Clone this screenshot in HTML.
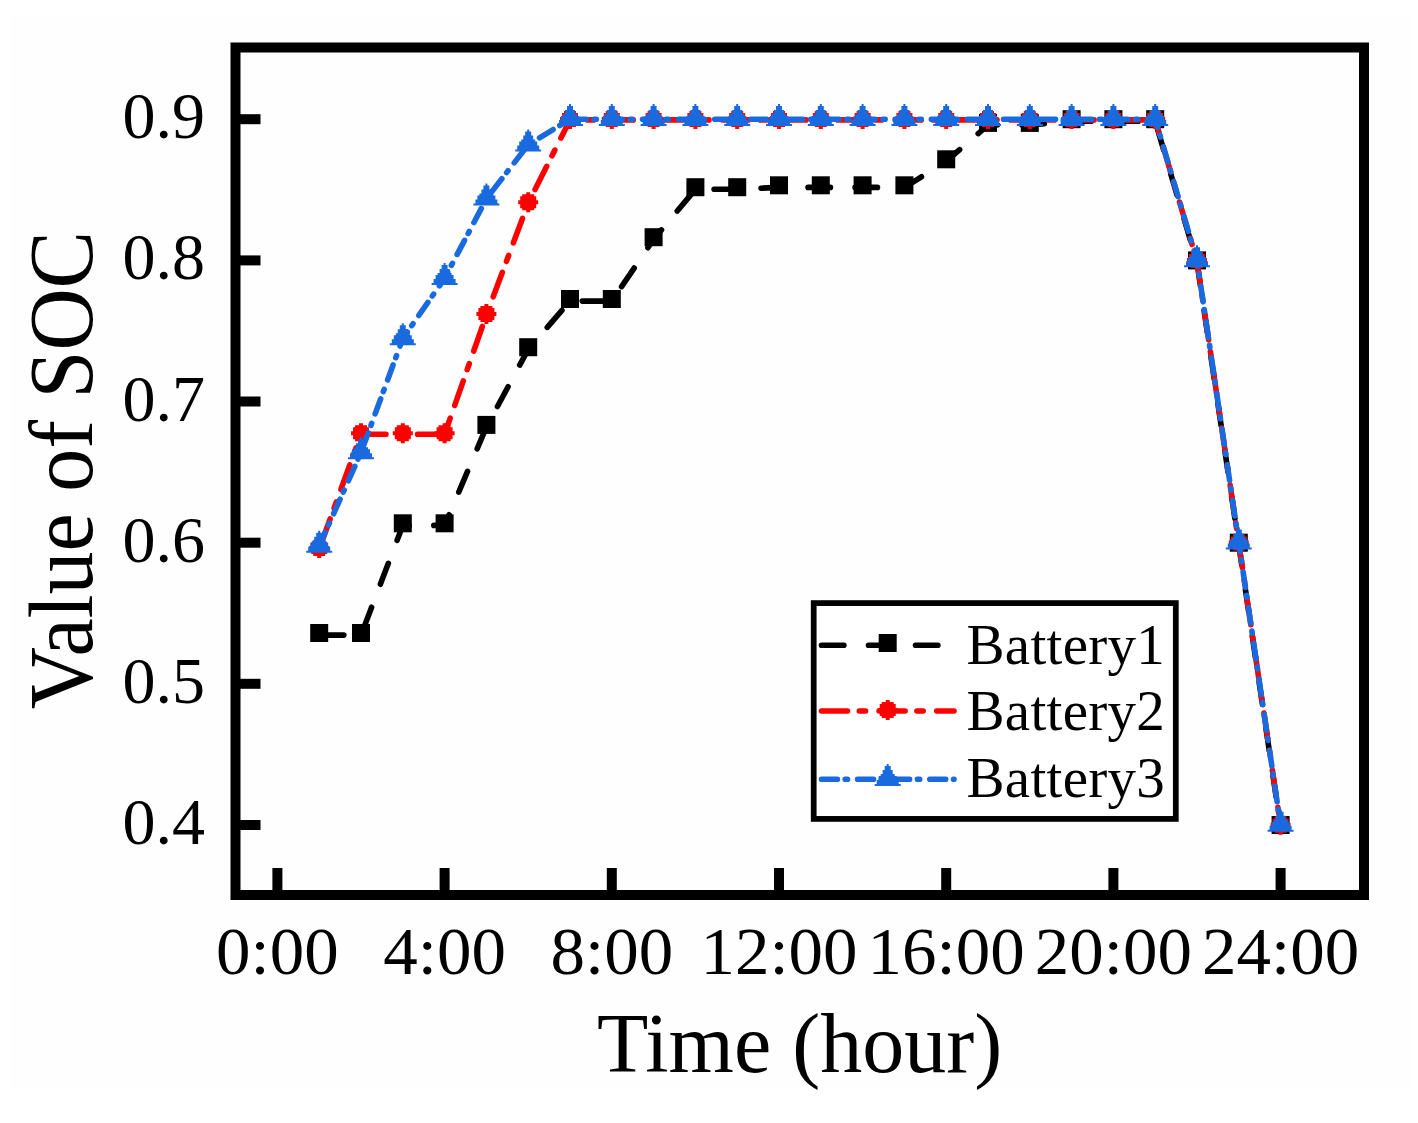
<!DOCTYPE html>
<html><head><meta charset="utf-8"><style>
html,body{margin:0;padding:0;background:#fff;}
body{width:1418px;height:1123px;overflow:hidden;font-family:"Liberation Serif",serif;}
svg{display:block;}
</style></head><body>
<svg width="1418" height="1123" viewBox="0 0 1418 1123">
<rect width="1418" height="1123" fill="#fff"/>
<rect x="10" y="16" width="1401" height="1074" fill="#fefefe"/>
<polyline points="319.2,635.1 361.0,635.1 402.8,525.4 444.6,525.4 486.4,427.0 528.2,349.3 570.0,301.1 611.8,301.1 653.6,239.3 695.4,189.3 737.2,189.3 779.0,187.4 820.8,187.4 862.6,187.4 904.4,187.4 946.2,161.4 988.0,125.0 1029.8,125.0 1071.6,121.3 1113.4,121.3 1155.2,121.3 1197.0,262.5 1238.8,544.8 1280.6,827.1" fill="none" stroke="#000" stroke-width="5.6" stroke-dasharray="22.4 24.6" stroke-dashoffset="44.79" stroke-linecap="round" stroke-linejoin="round"/>
<rect x="310.2" y="624.0" width="18" height="18" fill="#000"/>
<rect x="352.0" y="624.0" width="18" height="18" fill="#000"/>
<rect x="393.8" y="514.3" width="18" height="18" fill="#000"/>
<rect x="435.6" y="514.3" width="18" height="18" fill="#000"/>
<rect x="477.4" y="415.9" width="18" height="18" fill="#000"/>
<rect x="519.2" y="338.2" width="18" height="18" fill="#000"/>
<rect x="561.0" y="290.0" width="18" height="18" fill="#000"/>
<rect x="602.8" y="290.0" width="18" height="18" fill="#000"/>
<rect x="644.6" y="228.2" width="18" height="18" fill="#000"/>
<rect x="686.4" y="178.2" width="18" height="18" fill="#000"/>
<rect x="728.2" y="178.2" width="18" height="18" fill="#000"/>
<rect x="770.0" y="176.3" width="18" height="18" fill="#000"/>
<rect x="811.8" y="176.3" width="18" height="18" fill="#000"/>
<rect x="853.6" y="176.3" width="18" height="18" fill="#000"/>
<rect x="895.4" y="176.3" width="18" height="18" fill="#000"/>
<rect x="937.2" y="150.3" width="18" height="18" fill="#000"/>
<rect x="979.0" y="113.9" width="18" height="18" fill="#000"/>
<rect x="1020.8" y="113.9" width="18" height="18" fill="#000"/>
<rect x="1062.6" y="110.2" width="18" height="18" fill="#000"/>
<rect x="1104.4" y="110.2" width="18" height="18" fill="#000"/>
<rect x="1146.2" y="110.2" width="18" height="18" fill="#000"/>
<rect x="1188.0" y="251.4" width="18" height="18" fill="#000"/>
<rect x="1229.8" y="533.7" width="18" height="18" fill="#000"/>
<rect x="1271.6" y="816.0" width="18" height="18" fill="#000"/>
<polyline points="319.2,549.0 361.0,434.2 402.8,434.2 444.6,434.2 486.4,314.9 528.2,203.2 570.0,119.9 611.8,119.9 653.6,119.9 695.4,119.9 737.2,119.9 779.0,119.9 820.8,119.9 862.6,119.9 904.4,119.9 946.2,119.9 988.0,119.9 1029.8,119.9 1071.6,119.9 1113.4,119.9 1155.2,119.9 1197.0,261.1 1238.8,543.4 1280.6,825.7" fill="none" stroke="#FF0000" stroke-width="5.6" stroke-dasharray="26 11.8 6.3 13.5" stroke-dashoffset="51.67" stroke-linecap="round" stroke-linejoin="round"/>
<polygon points="321.2,538.0 321.2,540.0 325.2,540.0 325.2,542.0 327.2,542.0 327.2,546.0 329.2,546.0 329.2,550.0 327.2,550.0 327.2,554.0 325.2,554.0 325.2,556.0 321.2,556.0 321.2,558.0 317.2,558.0 317.2,556.0 313.2,556.0 313.2,554.0 311.2,554.0 311.2,550.0 309.2,550.0 309.2,546.0 311.2,546.0 311.2,542.0 313.2,542.0 313.2,540.0 317.2,540.0 317.2,538.0" fill="#FF0000"/>
<polygon points="363.0,423.2 363.0,425.2 367.0,425.2 367.0,427.2 369.0,427.2 369.0,431.2 371.0,431.2 371.0,435.2 369.0,435.2 369.0,439.2 367.0,439.2 367.0,441.2 363.0,441.2 363.0,443.2 359.0,443.2 359.0,441.2 355.0,441.2 355.0,439.2 353.0,439.2 353.0,435.2 351.0,435.2 351.0,431.2 353.0,431.2 353.0,427.2 355.0,427.2 355.0,425.2 359.0,425.2 359.0,423.2" fill="#FF0000"/>
<polygon points="404.8,423.2 404.8,425.2 408.8,425.2 408.8,427.2 410.8,427.2 410.8,431.2 412.8,431.2 412.8,435.2 410.8,435.2 410.8,439.2 408.8,439.2 408.8,441.2 404.8,441.2 404.8,443.2 400.8,443.2 400.8,441.2 396.8,441.2 396.8,439.2 394.8,439.2 394.8,435.2 392.8,435.2 392.8,431.2 394.8,431.2 394.8,427.2 396.8,427.2 396.8,425.2 400.8,425.2 400.8,423.2" fill="#FF0000"/>
<polygon points="446.6,423.2 446.6,425.2 450.6,425.2 450.6,427.2 452.6,427.2 452.6,431.2 454.6,431.2 454.6,435.2 452.6,435.2 452.6,439.2 450.6,439.2 450.6,441.2 446.6,441.2 446.6,443.2 442.6,443.2 442.6,441.2 438.6,441.2 438.6,439.2 436.6,439.2 436.6,435.2 434.6,435.2 434.6,431.2 436.6,431.2 436.6,427.2 438.6,427.2 438.6,425.2 442.6,425.2 442.6,423.2" fill="#FF0000"/>
<polygon points="488.4,303.9 488.4,305.9 492.4,305.9 492.4,307.9 494.4,307.9 494.4,311.9 496.4,311.9 496.4,315.9 494.4,315.9 494.4,319.9 492.4,319.9 492.4,321.9 488.4,321.9 488.4,323.9 484.4,323.9 484.4,321.9 480.4,321.9 480.4,319.9 478.4,319.9 478.4,315.9 476.4,315.9 476.4,311.9 478.4,311.9 478.4,307.9 480.4,307.9 480.4,305.9 484.4,305.9 484.4,303.9" fill="#FF0000"/>
<polygon points="530.2,192.2 530.2,194.2 534.2,194.2 534.2,196.2 536.2,196.2 536.2,200.2 538.2,200.2 538.2,204.2 536.2,204.2 536.2,208.2 534.2,208.2 534.2,210.2 530.2,210.2 530.2,212.2 526.2,212.2 526.2,210.2 522.2,210.2 522.2,208.2 520.2,208.2 520.2,204.2 518.2,204.2 518.2,200.2 520.2,200.2 520.2,196.2 522.2,196.2 522.2,194.2 526.2,194.2 526.2,192.2" fill="#FF0000"/>
<polygon points="572.0,108.9 572.0,110.9 576.0,110.9 576.0,112.9 578.0,112.9 578.0,116.9 580.0,116.9 580.0,120.9 578.0,120.9 578.0,124.9 576.0,124.9 576.0,126.9 572.0,126.9 572.0,128.9 568.0,128.9 568.0,126.9 564.0,126.9 564.0,124.9 562.0,124.9 562.0,120.9 560.0,120.9 560.0,116.9 562.0,116.9 562.0,112.9 564.0,112.9 564.0,110.9 568.0,110.9 568.0,108.9" fill="#FF0000"/>
<polygon points="613.8,108.9 613.8,110.9 617.8,110.9 617.8,112.9 619.8,112.9 619.8,116.9 621.8,116.9 621.8,120.9 619.8,120.9 619.8,124.9 617.8,124.9 617.8,126.9 613.8,126.9 613.8,128.9 609.8,128.9 609.8,126.9 605.8,126.9 605.8,124.9 603.8,124.9 603.8,120.9 601.8,120.9 601.8,116.9 603.8,116.9 603.8,112.9 605.8,112.9 605.8,110.9 609.8,110.9 609.8,108.9" fill="#FF0000"/>
<polygon points="655.6,108.9 655.6,110.9 659.6,110.9 659.6,112.9 661.6,112.9 661.6,116.9 663.6,116.9 663.6,120.9 661.6,120.9 661.6,124.9 659.6,124.9 659.6,126.9 655.6,126.9 655.6,128.9 651.6,128.9 651.6,126.9 647.6,126.9 647.6,124.9 645.6,124.9 645.6,120.9 643.6,120.9 643.6,116.9 645.6,116.9 645.6,112.9 647.6,112.9 647.6,110.9 651.6,110.9 651.6,108.9" fill="#FF0000"/>
<polygon points="697.4,108.9 697.4,110.9 701.4,110.9 701.4,112.9 703.4,112.9 703.4,116.9 705.4,116.9 705.4,120.9 703.4,120.9 703.4,124.9 701.4,124.9 701.4,126.9 697.4,126.9 697.4,128.9 693.4,128.9 693.4,126.9 689.4,126.9 689.4,124.9 687.4,124.9 687.4,120.9 685.4,120.9 685.4,116.9 687.4,116.9 687.4,112.9 689.4,112.9 689.4,110.9 693.4,110.9 693.4,108.9" fill="#FF0000"/>
<polygon points="739.2,108.9 739.2,110.9 743.2,110.9 743.2,112.9 745.2,112.9 745.2,116.9 747.2,116.9 747.2,120.9 745.2,120.9 745.2,124.9 743.2,124.9 743.2,126.9 739.2,126.9 739.2,128.9 735.2,128.9 735.2,126.9 731.2,126.9 731.2,124.9 729.2,124.9 729.2,120.9 727.2,120.9 727.2,116.9 729.2,116.9 729.2,112.9 731.2,112.9 731.2,110.9 735.2,110.9 735.2,108.9" fill="#FF0000"/>
<polygon points="781.0,108.9 781.0,110.9 785.0,110.9 785.0,112.9 787.0,112.9 787.0,116.9 789.0,116.9 789.0,120.9 787.0,120.9 787.0,124.9 785.0,124.9 785.0,126.9 781.0,126.9 781.0,128.9 777.0,128.9 777.0,126.9 773.0,126.9 773.0,124.9 771.0,124.9 771.0,120.9 769.0,120.9 769.0,116.9 771.0,116.9 771.0,112.9 773.0,112.9 773.0,110.9 777.0,110.9 777.0,108.9" fill="#FF0000"/>
<polygon points="822.8,108.9 822.8,110.9 826.8,110.9 826.8,112.9 828.8,112.9 828.8,116.9 830.8,116.9 830.8,120.9 828.8,120.9 828.8,124.9 826.8,124.9 826.8,126.9 822.8,126.9 822.8,128.9 818.8,128.9 818.8,126.9 814.8,126.9 814.8,124.9 812.8,124.9 812.8,120.9 810.8,120.9 810.8,116.9 812.8,116.9 812.8,112.9 814.8,112.9 814.8,110.9 818.8,110.9 818.8,108.9" fill="#FF0000"/>
<polygon points="864.6,108.9 864.6,110.9 868.6,110.9 868.6,112.9 870.6,112.9 870.6,116.9 872.6,116.9 872.6,120.9 870.6,120.9 870.6,124.9 868.6,124.9 868.6,126.9 864.6,126.9 864.6,128.9 860.6,128.9 860.6,126.9 856.6,126.9 856.6,124.9 854.6,124.9 854.6,120.9 852.6,120.9 852.6,116.9 854.6,116.9 854.6,112.9 856.6,112.9 856.6,110.9 860.6,110.9 860.6,108.9" fill="#FF0000"/>
<polygon points="906.4,108.9 906.4,110.9 910.4,110.9 910.4,112.9 912.4,112.9 912.4,116.9 914.4,116.9 914.4,120.9 912.4,120.9 912.4,124.9 910.4,124.9 910.4,126.9 906.4,126.9 906.4,128.9 902.4,128.9 902.4,126.9 898.4,126.9 898.4,124.9 896.4,124.9 896.4,120.9 894.4,120.9 894.4,116.9 896.4,116.9 896.4,112.9 898.4,112.9 898.4,110.9 902.4,110.9 902.4,108.9" fill="#FF0000"/>
<polygon points="948.2,108.9 948.2,110.9 952.2,110.9 952.2,112.9 954.2,112.9 954.2,116.9 956.2,116.9 956.2,120.9 954.2,120.9 954.2,124.9 952.2,124.9 952.2,126.9 948.2,126.9 948.2,128.9 944.2,128.9 944.2,126.9 940.2,126.9 940.2,124.9 938.2,124.9 938.2,120.9 936.2,120.9 936.2,116.9 938.2,116.9 938.2,112.9 940.2,112.9 940.2,110.9 944.2,110.9 944.2,108.9" fill="#FF0000"/>
<polygon points="990.0,108.9 990.0,110.9 994.0,110.9 994.0,112.9 996.0,112.9 996.0,116.9 998.0,116.9 998.0,120.9 996.0,120.9 996.0,124.9 994.0,124.9 994.0,126.9 990.0,126.9 990.0,128.9 986.0,128.9 986.0,126.9 982.0,126.9 982.0,124.9 980.0,124.9 980.0,120.9 978.0,120.9 978.0,116.9 980.0,116.9 980.0,112.9 982.0,112.9 982.0,110.9 986.0,110.9 986.0,108.9" fill="#FF0000"/>
<polygon points="1031.8,108.9 1031.8,110.9 1035.8,110.9 1035.8,112.9 1037.8,112.9 1037.8,116.9 1039.8,116.9 1039.8,120.9 1037.8,120.9 1037.8,124.9 1035.8,124.9 1035.8,126.9 1031.8,126.9 1031.8,128.9 1027.8,128.9 1027.8,126.9 1023.8,126.9 1023.8,124.9 1021.8,124.9 1021.8,120.9 1019.8,120.9 1019.8,116.9 1021.8,116.9 1021.8,112.9 1023.8,112.9 1023.8,110.9 1027.8,110.9 1027.8,108.9" fill="#FF0000"/>
<polygon points="1073.6,108.9 1073.6,110.9 1077.6,110.9 1077.6,112.9 1079.6,112.9 1079.6,116.9 1081.6,116.9 1081.6,120.9 1079.6,120.9 1079.6,124.9 1077.6,124.9 1077.6,126.9 1073.6,126.9 1073.6,128.9 1069.6,128.9 1069.6,126.9 1065.6,126.9 1065.6,124.9 1063.6,124.9 1063.6,120.9 1061.6,120.9 1061.6,116.9 1063.6,116.9 1063.6,112.9 1065.6,112.9 1065.6,110.9 1069.6,110.9 1069.6,108.9" fill="#FF0000"/>
<polygon points="1115.4,108.9 1115.4,110.9 1119.4,110.9 1119.4,112.9 1121.4,112.9 1121.4,116.9 1123.4,116.9 1123.4,120.9 1121.4,120.9 1121.4,124.9 1119.4,124.9 1119.4,126.9 1115.4,126.9 1115.4,128.9 1111.4,128.9 1111.4,126.9 1107.4,126.9 1107.4,124.9 1105.4,124.9 1105.4,120.9 1103.4,120.9 1103.4,116.9 1105.4,116.9 1105.4,112.9 1107.4,112.9 1107.4,110.9 1111.4,110.9 1111.4,108.9" fill="#FF0000"/>
<polygon points="1157.2,108.9 1157.2,110.9 1161.2,110.9 1161.2,112.9 1163.2,112.9 1163.2,116.9 1165.2,116.9 1165.2,120.9 1163.2,120.9 1163.2,124.9 1161.2,124.9 1161.2,126.9 1157.2,126.9 1157.2,128.9 1153.2,128.9 1153.2,126.9 1149.2,126.9 1149.2,124.9 1147.2,124.9 1147.2,120.9 1145.2,120.9 1145.2,116.9 1147.2,116.9 1147.2,112.9 1149.2,112.9 1149.2,110.9 1153.2,110.9 1153.2,108.9" fill="#FF0000"/>
<polygon points="1199.0,250.1 1199.0,252.1 1203.0,252.1 1203.0,254.1 1205.0,254.1 1205.0,258.1 1207.0,258.1 1207.0,262.1 1205.0,262.1 1205.0,266.1 1203.0,266.1 1203.0,268.1 1199.0,268.1 1199.0,270.1 1195.0,270.1 1195.0,268.1 1191.0,268.1 1191.0,266.1 1189.0,266.1 1189.0,262.1 1187.0,262.1 1187.0,258.1 1189.0,258.1 1189.0,254.1 1191.0,254.1 1191.0,252.1 1195.0,252.1 1195.0,250.1" fill="#FF0000"/>
<polygon points="1240.8,532.4 1240.8,534.4 1244.8,534.4 1244.8,536.4 1246.8,536.4 1246.8,540.4 1248.8,540.4 1248.8,544.4 1246.8,544.4 1246.8,548.4 1244.8,548.4 1244.8,550.4 1240.8,550.4 1240.8,552.4 1236.8,552.4 1236.8,550.4 1232.8,550.4 1232.8,548.4 1230.8,548.4 1230.8,544.4 1228.8,544.4 1228.8,540.4 1230.8,540.4 1230.8,536.4 1232.8,536.4 1232.8,534.4 1236.8,534.4 1236.8,532.4" fill="#FF0000"/>
<polygon points="1282.6,814.7 1282.6,816.7 1286.6,816.7 1286.6,818.7 1288.6,818.7 1288.6,822.7 1290.6,822.7 1290.6,826.7 1288.6,826.7 1288.6,830.7 1286.6,830.7 1286.6,832.7 1282.6,832.7 1282.6,834.7 1278.6,834.7 1278.6,832.7 1274.6,832.7 1274.6,830.7 1272.6,830.7 1272.6,826.7 1270.6,826.7 1270.6,822.7 1272.6,822.7 1272.6,818.7 1274.6,818.7 1274.6,816.7 1278.6,816.7 1278.6,814.7" fill="#FF0000"/>
<polyline points="319.2,545.9 361.0,452.5 402.8,338.5 444.6,278.3 486.4,198.7 528.2,144.8 570.0,119.2 611.8,119.2 653.6,119.2 695.4,119.2 737.2,119.2 779.0,119.2 820.8,119.2 862.6,119.2 904.4,119.2 946.2,119.2 988.0,119.2 1029.8,119.2 1071.6,119.2 1113.4,119.2 1155.2,119.2 1197.0,260.4 1238.8,542.7 1280.6,825.0" fill="none" stroke="#186ADE" stroke-width="5.6" stroke-dasharray="15.9 7.8 2.3 10.1" stroke-dashoffset="0.88" stroke-linecap="round" stroke-linejoin="round"/>
<polygon points="320.2,530.7 320.2,532.7 322.2,532.7 322.2,536.7 324.2,536.7 324.2,540.7 326.2,540.7 326.2,542.7 328.2,542.7 328.2,546.7 330.2,546.7 330.2,550.7 332.2,550.7 332.2,552.7 306.2,552.7 306.2,550.7 308.2,550.7 308.2,546.7 310.2,546.7 310.2,542.7 312.2,542.7 312.2,540.7 314.2,540.7 314.2,536.7 316.2,536.7 316.2,532.7 318.2,532.7 318.2,530.7" fill="#186ADE"/>
<polygon points="362.0,437.3 362.0,439.3 364.0,439.3 364.0,443.3 366.0,443.3 366.0,447.3 368.0,447.3 368.0,449.3 370.0,449.3 370.0,453.3 372.0,453.3 372.0,457.3 374.0,457.3 374.0,459.3 348.0,459.3 348.0,457.3 350.0,457.3 350.0,453.3 352.0,453.3 352.0,449.3 354.0,449.3 354.0,447.3 356.0,447.3 356.0,443.3 358.0,443.3 358.0,439.3 360.0,439.3 360.0,437.3" fill="#186ADE"/>
<polygon points="403.8,323.3 403.8,325.3 405.8,325.3 405.8,329.3 407.8,329.3 407.8,333.3 409.8,333.3 409.8,335.3 411.8,335.3 411.8,339.3 413.8,339.3 413.8,343.3 415.8,343.3 415.8,345.3 389.8,345.3 389.8,343.3 391.8,343.3 391.8,339.3 393.8,339.3 393.8,335.3 395.8,335.3 395.8,333.3 397.8,333.3 397.8,329.3 399.8,329.3 399.8,325.3 401.8,325.3 401.8,323.3" fill="#186ADE"/>
<polygon points="445.6,263.1 445.6,265.1 447.6,265.1 447.6,269.1 449.6,269.1 449.6,273.1 451.6,273.1 451.6,275.1 453.6,275.1 453.6,279.1 455.6,279.1 455.6,283.1 457.6,283.1 457.6,285.1 431.6,285.1 431.6,283.1 433.6,283.1 433.6,279.1 435.6,279.1 435.6,275.1 437.6,275.1 437.6,273.1 439.6,273.1 439.6,269.1 441.6,269.1 441.6,265.1 443.6,265.1 443.6,263.1" fill="#186ADE"/>
<polygon points="487.4,183.5 487.4,185.5 489.4,185.5 489.4,189.5 491.4,189.5 491.4,193.5 493.4,193.5 493.4,195.5 495.4,195.5 495.4,199.5 497.4,199.5 497.4,203.5 499.4,203.5 499.4,205.5 473.4,205.5 473.4,203.5 475.4,203.5 475.4,199.5 477.4,199.5 477.4,195.5 479.4,195.5 479.4,193.5 481.4,193.5 481.4,189.5 483.4,189.5 483.4,185.5 485.4,185.5 485.4,183.5" fill="#186ADE"/>
<polygon points="529.2,129.6 529.2,131.6 531.2,131.6 531.2,135.6 533.2,135.6 533.2,139.6 535.2,139.6 535.2,141.6 537.2,141.6 537.2,145.6 539.2,145.6 539.2,149.6 541.2,149.6 541.2,151.6 515.2,151.6 515.2,149.6 517.2,149.6 517.2,145.6 519.2,145.6 519.2,141.6 521.2,141.6 521.2,139.6 523.2,139.6 523.2,135.6 525.2,135.6 525.2,131.6 527.2,131.6 527.2,129.6" fill="#186ADE"/>
<polygon points="571.0,104.0 571.0,106.0 573.0,106.0 573.0,110.0 575.0,110.0 575.0,114.0 577.0,114.0 577.0,116.0 579.0,116.0 579.0,120.0 581.0,120.0 581.0,124.0 583.0,124.0 583.0,126.0 557.0,126.0 557.0,124.0 559.0,124.0 559.0,120.0 561.0,120.0 561.0,116.0 563.0,116.0 563.0,114.0 565.0,114.0 565.0,110.0 567.0,110.0 567.0,106.0 569.0,106.0 569.0,104.0" fill="#186ADE"/>
<polygon points="612.8,104.0 612.8,106.0 614.8,106.0 614.8,110.0 616.8,110.0 616.8,114.0 618.8,114.0 618.8,116.0 620.8,116.0 620.8,120.0 622.8,120.0 622.8,124.0 624.8,124.0 624.8,126.0 598.8,126.0 598.8,124.0 600.8,124.0 600.8,120.0 602.8,120.0 602.8,116.0 604.8,116.0 604.8,114.0 606.8,114.0 606.8,110.0 608.8,110.0 608.8,106.0 610.8,106.0 610.8,104.0" fill="#186ADE"/>
<polygon points="654.6,104.0 654.6,106.0 656.6,106.0 656.6,110.0 658.6,110.0 658.6,114.0 660.6,114.0 660.6,116.0 662.6,116.0 662.6,120.0 664.6,120.0 664.6,124.0 666.6,124.0 666.6,126.0 640.6,126.0 640.6,124.0 642.6,124.0 642.6,120.0 644.6,120.0 644.6,116.0 646.6,116.0 646.6,114.0 648.6,114.0 648.6,110.0 650.6,110.0 650.6,106.0 652.6,106.0 652.6,104.0" fill="#186ADE"/>
<polygon points="696.4,104.0 696.4,106.0 698.4,106.0 698.4,110.0 700.4,110.0 700.4,114.0 702.4,114.0 702.4,116.0 704.4,116.0 704.4,120.0 706.4,120.0 706.4,124.0 708.4,124.0 708.4,126.0 682.4,126.0 682.4,124.0 684.4,124.0 684.4,120.0 686.4,120.0 686.4,116.0 688.4,116.0 688.4,114.0 690.4,114.0 690.4,110.0 692.4,110.0 692.4,106.0 694.4,106.0 694.4,104.0" fill="#186ADE"/>
<polygon points="738.2,104.0 738.2,106.0 740.2,106.0 740.2,110.0 742.2,110.0 742.2,114.0 744.2,114.0 744.2,116.0 746.2,116.0 746.2,120.0 748.2,120.0 748.2,124.0 750.2,124.0 750.2,126.0 724.2,126.0 724.2,124.0 726.2,124.0 726.2,120.0 728.2,120.0 728.2,116.0 730.2,116.0 730.2,114.0 732.2,114.0 732.2,110.0 734.2,110.0 734.2,106.0 736.2,106.0 736.2,104.0" fill="#186ADE"/>
<polygon points="780.0,104.0 780.0,106.0 782.0,106.0 782.0,110.0 784.0,110.0 784.0,114.0 786.0,114.0 786.0,116.0 788.0,116.0 788.0,120.0 790.0,120.0 790.0,124.0 792.0,124.0 792.0,126.0 766.0,126.0 766.0,124.0 768.0,124.0 768.0,120.0 770.0,120.0 770.0,116.0 772.0,116.0 772.0,114.0 774.0,114.0 774.0,110.0 776.0,110.0 776.0,106.0 778.0,106.0 778.0,104.0" fill="#186ADE"/>
<polygon points="821.8,104.0 821.8,106.0 823.8,106.0 823.8,110.0 825.8,110.0 825.8,114.0 827.8,114.0 827.8,116.0 829.8,116.0 829.8,120.0 831.8,120.0 831.8,124.0 833.8,124.0 833.8,126.0 807.8,126.0 807.8,124.0 809.8,124.0 809.8,120.0 811.8,120.0 811.8,116.0 813.8,116.0 813.8,114.0 815.8,114.0 815.8,110.0 817.8,110.0 817.8,106.0 819.8,106.0 819.8,104.0" fill="#186ADE"/>
<polygon points="863.6,104.0 863.6,106.0 865.6,106.0 865.6,110.0 867.6,110.0 867.6,114.0 869.6,114.0 869.6,116.0 871.6,116.0 871.6,120.0 873.6,120.0 873.6,124.0 875.6,124.0 875.6,126.0 849.6,126.0 849.6,124.0 851.6,124.0 851.6,120.0 853.6,120.0 853.6,116.0 855.6,116.0 855.6,114.0 857.6,114.0 857.6,110.0 859.6,110.0 859.6,106.0 861.6,106.0 861.6,104.0" fill="#186ADE"/>
<polygon points="905.4,104.0 905.4,106.0 907.4,106.0 907.4,110.0 909.4,110.0 909.4,114.0 911.4,114.0 911.4,116.0 913.4,116.0 913.4,120.0 915.4,120.0 915.4,124.0 917.4,124.0 917.4,126.0 891.4,126.0 891.4,124.0 893.4,124.0 893.4,120.0 895.4,120.0 895.4,116.0 897.4,116.0 897.4,114.0 899.4,114.0 899.4,110.0 901.4,110.0 901.4,106.0 903.4,106.0 903.4,104.0" fill="#186ADE"/>
<polygon points="947.2,104.0 947.2,106.0 949.2,106.0 949.2,110.0 951.2,110.0 951.2,114.0 953.2,114.0 953.2,116.0 955.2,116.0 955.2,120.0 957.2,120.0 957.2,124.0 959.2,124.0 959.2,126.0 933.2,126.0 933.2,124.0 935.2,124.0 935.2,120.0 937.2,120.0 937.2,116.0 939.2,116.0 939.2,114.0 941.2,114.0 941.2,110.0 943.2,110.0 943.2,106.0 945.2,106.0 945.2,104.0" fill="#186ADE"/>
<polygon points="989.0,104.0 989.0,106.0 991.0,106.0 991.0,110.0 993.0,110.0 993.0,114.0 995.0,114.0 995.0,116.0 997.0,116.0 997.0,120.0 999.0,120.0 999.0,124.0 1001.0,124.0 1001.0,126.0 975.0,126.0 975.0,124.0 977.0,124.0 977.0,120.0 979.0,120.0 979.0,116.0 981.0,116.0 981.0,114.0 983.0,114.0 983.0,110.0 985.0,110.0 985.0,106.0 987.0,106.0 987.0,104.0" fill="#186ADE"/>
<polygon points="1030.8,104.0 1030.8,106.0 1032.8,106.0 1032.8,110.0 1034.8,110.0 1034.8,114.0 1036.8,114.0 1036.8,116.0 1038.8,116.0 1038.8,120.0 1040.8,120.0 1040.8,124.0 1042.8,124.0 1042.8,126.0 1016.8,126.0 1016.8,124.0 1018.8,124.0 1018.8,120.0 1020.8,120.0 1020.8,116.0 1022.8,116.0 1022.8,114.0 1024.8,114.0 1024.8,110.0 1026.8,110.0 1026.8,106.0 1028.8,106.0 1028.8,104.0" fill="#186ADE"/>
<polygon points="1072.6,104.0 1072.6,106.0 1074.6,106.0 1074.6,110.0 1076.6,110.0 1076.6,114.0 1078.6,114.0 1078.6,116.0 1080.6,116.0 1080.6,120.0 1082.6,120.0 1082.6,124.0 1084.6,124.0 1084.6,126.0 1058.6,126.0 1058.6,124.0 1060.6,124.0 1060.6,120.0 1062.6,120.0 1062.6,116.0 1064.6,116.0 1064.6,114.0 1066.6,114.0 1066.6,110.0 1068.6,110.0 1068.6,106.0 1070.6,106.0 1070.6,104.0" fill="#186ADE"/>
<polygon points="1114.4,104.0 1114.4,106.0 1116.4,106.0 1116.4,110.0 1118.4,110.0 1118.4,114.0 1120.4,114.0 1120.4,116.0 1122.4,116.0 1122.4,120.0 1124.4,120.0 1124.4,124.0 1126.4,124.0 1126.4,126.0 1100.4,126.0 1100.4,124.0 1102.4,124.0 1102.4,120.0 1104.4,120.0 1104.4,116.0 1106.4,116.0 1106.4,114.0 1108.4,114.0 1108.4,110.0 1110.4,110.0 1110.4,106.0 1112.4,106.0 1112.4,104.0" fill="#186ADE"/>
<polygon points="1156.2,104.0 1156.2,106.0 1158.2,106.0 1158.2,110.0 1160.2,110.0 1160.2,114.0 1162.2,114.0 1162.2,116.0 1164.2,116.0 1164.2,120.0 1166.2,120.0 1166.2,124.0 1168.2,124.0 1168.2,126.0 1142.2,126.0 1142.2,124.0 1144.2,124.0 1144.2,120.0 1146.2,120.0 1146.2,116.0 1148.2,116.0 1148.2,114.0 1150.2,114.0 1150.2,110.0 1152.2,110.0 1152.2,106.0 1154.2,106.0 1154.2,104.0" fill="#186ADE"/>
<polygon points="1198.0,245.2 1198.0,247.2 1200.0,247.2 1200.0,251.2 1202.0,251.2 1202.0,255.2 1204.0,255.2 1204.0,257.2 1206.0,257.2 1206.0,261.2 1208.0,261.2 1208.0,265.2 1210.0,265.2 1210.0,267.2 1184.0,267.2 1184.0,265.2 1186.0,265.2 1186.0,261.2 1188.0,261.2 1188.0,257.2 1190.0,257.2 1190.0,255.2 1192.0,255.2 1192.0,251.2 1194.0,251.2 1194.0,247.2 1196.0,247.2 1196.0,245.2" fill="#186ADE"/>
<polygon points="1239.8,527.5 1239.8,529.5 1241.8,529.5 1241.8,533.5 1243.8,533.5 1243.8,537.5 1245.8,537.5 1245.8,539.5 1247.8,539.5 1247.8,543.5 1249.8,543.5 1249.8,547.5 1251.8,547.5 1251.8,549.5 1225.8,549.5 1225.8,547.5 1227.8,547.5 1227.8,543.5 1229.8,543.5 1229.8,539.5 1231.8,539.5 1231.8,537.5 1233.8,537.5 1233.8,533.5 1235.8,533.5 1235.8,529.5 1237.8,529.5 1237.8,527.5" fill="#186ADE"/>
<polygon points="1281.6,809.8 1281.6,811.8 1283.6,811.8 1283.6,815.8 1285.6,815.8 1285.6,819.8 1287.6,819.8 1287.6,821.8 1289.6,821.8 1289.6,825.8 1291.6,825.8 1291.6,829.8 1293.6,829.8 1293.6,831.8 1267.6,831.8 1267.6,829.8 1269.6,829.8 1269.6,825.8 1271.6,825.8 1271.6,821.8 1273.6,821.8 1273.6,819.8 1275.6,819.8 1275.6,815.8 1277.6,815.8 1277.6,811.8 1279.6,811.8 1279.6,809.8" fill="#186ADE"/>
<rect x="235.5" y="47.5" width="1128.5" height="847.5" fill="none" stroke="#000" stroke-width="10"/>
<rect x="272.4" y="868" width="10" height="22" fill="#000"/>
<rect x="439.6" y="868" width="10" height="22" fill="#000"/>
<rect x="606.8" y="868" width="10" height="22" fill="#000"/>
<rect x="774.0" y="868" width="10" height="22" fill="#000"/>
<rect x="941.2" y="868" width="10" height="22" fill="#000"/>
<rect x="1108.4" y="868" width="10" height="22" fill="#000"/>
<rect x="1275.6" y="868" width="10" height="22" fill="#000"/>
<rect x="240" y="114.2" width="20.5" height="10" fill="#000"/>
<rect x="240" y="255.4" width="20.5" height="10" fill="#000"/>
<rect x="240" y="396.5" width="20.5" height="10" fill="#000"/>
<rect x="240" y="537.7" width="20.5" height="10" fill="#000"/>
<rect x="240" y="678.8" width="20.5" height="10" fill="#000"/>
<rect x="240" y="820.0" width="20.5" height="10" fill="#000"/>
<text transform="translate(277.4,974) scale(1,0.972)" font-family="Liberation Serif" font-size="69" text-anchor="middle">0:00</text>
<text transform="translate(444.6,974) scale(1,0.972)" font-family="Liberation Serif" font-size="69" text-anchor="middle">4:00</text>
<text transform="translate(611.8,974) scale(1,0.972)" font-family="Liberation Serif" font-size="69" text-anchor="middle">8:00</text>
<text transform="translate(779.0,974) scale(1,0.972)" font-family="Liberation Serif" font-size="69" text-anchor="middle">12:00</text>
<text transform="translate(946.2,974) scale(1,0.972)" font-family="Liberation Serif" font-size="69" text-anchor="middle">16:00</text>
<text transform="translate(1113.4,974) scale(1,0.972)" font-family="Liberation Serif" font-size="69" text-anchor="middle">20:00</text>
<text transform="translate(1280.6,974) scale(1,0.972)" font-family="Liberation Serif" font-size="69" text-anchor="middle">24:00</text>
<text x="205" y="138.2" font-family="Liberation Serif" font-size="66" text-anchor="end">0.9</text>
<text x="205" y="279.4" font-family="Liberation Serif" font-size="66" text-anchor="end">0.8</text>
<text x="205" y="420.5" font-family="Liberation Serif" font-size="66" text-anchor="end">0.7</text>
<text x="205" y="561.7" font-family="Liberation Serif" font-size="66" text-anchor="end">0.6</text>
<text x="205" y="702.8" font-family="Liberation Serif" font-size="66" text-anchor="end">0.5</text>
<text x="205" y="844.0" font-family="Liberation Serif" font-size="66" text-anchor="end">0.4</text>
<text x="799.5" y="1072" font-family="Liberation Serif" font-size="84" text-anchor="middle">Time (hour)</text>
<text transform="translate(92,470.1) rotate(-90) scale(1,1.05)" x="0" y="0" font-family="Liberation Serif" font-size="86.1" text-anchor="middle">Value of SOC</text>
<rect x="813.7" y="603.1" width="362.1" height="215.8" fill="#fff" stroke="#000" stroke-width="5.75"/>
<line x1="821.5" y1="645.2" x2="954" y2="645.2" stroke="#000" stroke-width="5.6" stroke-dasharray="22.4 24.6" stroke-linecap="round"/>
<rect x="878.7" y="634.0" width="18" height="18" fill="#000"/>
<line x1="821.5" y1="711" x2="954" y2="711" stroke="#FF0000" stroke-width="5.6" stroke-dasharray="26 11.8 6.3 13.5" stroke-linecap="round"/>
<polygon points="889.7,700.0 889.7,702.0 893.7,702.0 893.7,704.0 895.7,704.0 895.7,708.0 897.7,708.0 897.7,712.0 895.7,712.0 895.7,716.0 893.7,716.0 893.7,718.0 889.7,718.0 889.7,720.0 885.7,720.0 885.7,718.0 881.7,718.0 881.7,716.0 879.7,716.0 879.7,712.0 877.7,712.0 877.7,708.0 879.7,708.0 879.7,704.0 881.7,704.0 881.7,702.0 885.7,702.0 885.7,700.0" fill="#FF0000"/>
<line x1="821.5" y1="779.2" x2="954" y2="779.2" stroke="#186ADE" stroke-width="5.6" stroke-dasharray="15.9 7.8 2.3 10.1" stroke-linecap="round"/>
<polygon points="888.7,764.0 888.7,766.0 890.7,766.0 890.7,770.0 892.7,770.0 892.7,774.0 894.7,774.0 894.7,776.0 896.7,776.0 896.7,780.0 898.7,780.0 898.7,784.0 900.7,784.0 900.7,786.0 874.7,786.0 874.7,784.0 876.7,784.0 876.7,780.0 878.7,780.0 878.7,776.0 880.7,776.0 880.7,774.0 882.7,774.0 882.7,770.0 884.7,770.0 884.7,766.0 886.7,766.0 886.7,764.0" fill="#186ADE"/>
<text x="966.5" y="664" font-family="Liberation Serif" font-size="57" letter-spacing="0.3">Battery1</text>
<text x="966.5" y="730" font-family="Liberation Serif" font-size="57" letter-spacing="0.3">Battery2</text>
<text x="966.5" y="796.5" font-family="Liberation Serif" font-size="57" letter-spacing="0.3">Battery3</text>
</svg>
</body></html>
